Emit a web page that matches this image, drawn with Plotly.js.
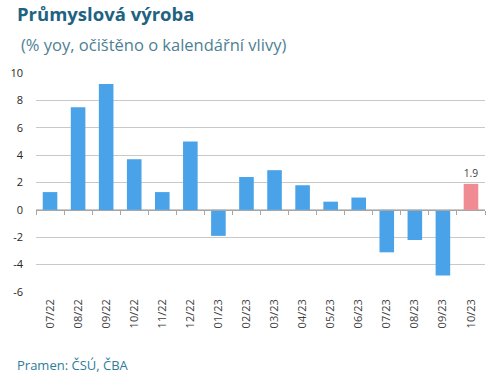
<!DOCTYPE html>
<html>
<head>
<meta charset="utf-8">
<script src="https://cdn.plot.ly/plotly-3.0.1.min.js"></script>
<style>html,body{margin:0;padding:0;background:#fff;}#chart{width:500px;height:383px;}</style>
</head>
<body>
<div id="chart"></div>
<script>
const categories = ["07/22","08/22","09/22","10/22","11/22","12/22","01/23","02/23","03/23","04/23","05/23","06/23","07/23","08/23","09/23","10/23"];
const values = [1.3, 7.5, 9.2, 3.7, 1.3, 5.0, -1.9, 2.4, 2.9, 1.8, 0.6, 0.9, -3.1, -2.2, -4.8, 1.9];
const yTickValues = [-6, -4, -2, 0, 2, 4, 6, 8, 10];
const yTickText = ["-6", "-4", "-2", "0", "2", "4", "6", "8", "10"];
const barColors = values.map((v, i) => i === values.length - 1 ? "#F08A93" : "#4AA3E8");
const labels = values.map((v, i) => i === values.length - 1 ? v.toFixed(1) : "");

const font = "Open Sans, Noto Sans, sans-serif";
const catRange = [-0.5, categories.length - 0.5];

const traces = [
  {
    type: "bar",
    x: categories,
    y: values,
    marker: {color: barColors},
    text: labels,
    textposition: "outside",
    textfont: {family: font, size: 12, color: "#404040"},
    cliponaxis: false,
    hoverinfo: "x+y",
    xaxis: "x",
    yaxis: "y"
  },
  {
    type: "scatter",
    mode: "markers",
    x: categories,
    y: categories.map(() => 0),
    marker: {opacity: 0},
    hoverinfo: "skip",
    showlegend: false,
    xaxis: "x2",
    yaxis: "y"
  }
];

const layout = {
  width: 500,
  height: 383,
  margin: {l: 36, r: 15, t: 73, b: 91},
  paper_bgcolor: "#ffffff",
  plot_bgcolor: "#ffffff",
  showlegend: false,
  bargap: 0.48,
  font: {family: font},
  title: {
    text: "<b>Průmyslová výroba</b>",
    font: {family: font, size: 18.5, color: "#1E6381"},
    x: 17 / 500, xanchor: "left",
    y: 1 - 15 / 383, yanchor: "middle"
  },
  xaxis: {
    type: "category",
    range: catRange,
    tickangle: -90,
    tickfont: {family: font, size: 11, color: "#404040"},
    ticklabelstandoff: 4,
    showgrid: false,
    showline: false,
    ticks: "",
    zeroline: false,
    automargin: false,
    fixedrange: true
  },
  xaxis2: {
    type: "category",
    overlaying: "x",
    anchor: "free",
    position: 6 / 16,
    range: catRange,
    showticklabels: false,
    showgrid: false,
    showline: true,
    linecolor: "#a6a6a6",
    linewidth: 1,
    ticks: "outside",
    ticklen: 4,
    tickcolor: "#a6a6a6",
    tickson: "boundaries",
    zeroline: false
  },
  yaxis: {
    range: [-6, 10],
    tickmode: "array",
    tickvals: yTickValues,
    ticktext: yTickText,
    showgrid: true,
    gridcolor: "#c9c9c9",
    gridwidth: 1,
    zeroline: false,
    showline: false,
    ticks: "",
    tickfont: {family: font, size: 11, color: "#262626"},
    ticklabelstandoff: 12,
    automargin: false,
    fixedrange: true
  },
  annotations: [
    {
      text: "(% yoy, očištěno o kalendářní vlivy)",
      xref: "paper", yref: "paper",
      x: -17 / 449, xanchor: "left",
      y: 1 + (73 - 44) / 219, yanchor: "middle",
      showarrow: false,
      font: {family: font, size: 16.5, color: "#4E7F94"}
    },
    {
      text: "Pramen: ČSÚ, ČBA",
      xref: "paper", yref: "paper",
      x: -21 / 449, xanchor: "left",
      y: -(365 - 292) / 219, yanchor: "middle",
      showarrow: false,
      font: {family: font, size: 13, color: "#2E7D9A"}
    }
  ]
};

Plotly.newPlot("chart", traces, layout, {displayModeBar: false, staticPlot: true});
</script>
</body>
</html>
